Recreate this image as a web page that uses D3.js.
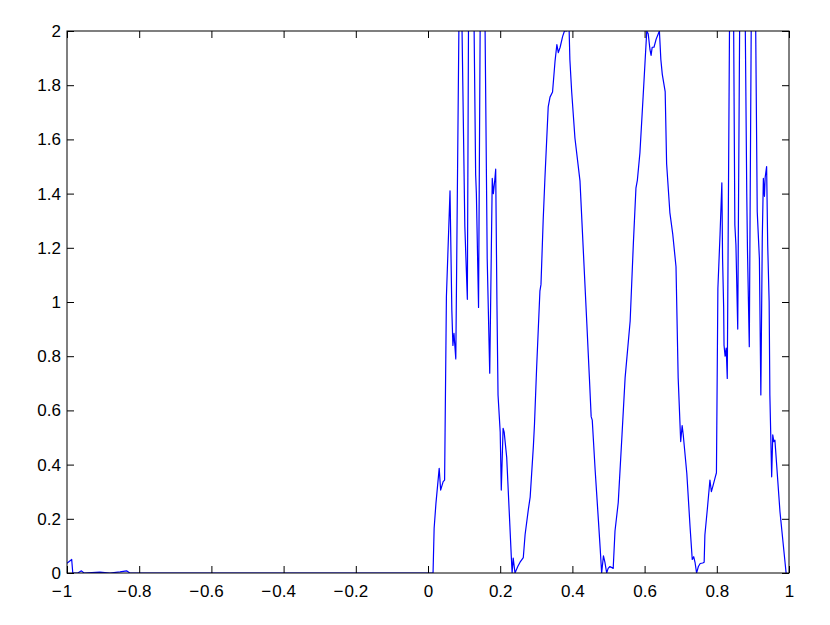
<!DOCTYPE html>
<html>
<head>
<meta charset="utf-8">
<script src="https://cdn.jsdelivr.net/npm/d3@7"></script>
<style>
  body { margin: 0; background: #fff; }
  svg { display: block; }
  .tick text { font-family: "Liberation Sans", Arial, Helvetica, sans-serif; font-size: 17px; fill: #000; }
</style>
</head>
<body>
<div id="chart"></div>
<script>
const xValues = [
  -1.000, -0.987, -0.984, -0.970, -0.960, -0.953, -0.909, -0.881, -0.853, -0.835, -0.826, -0.500, 0.000,
  0.014, 0.017, 0.022, 0.031, 0.035, 0.042, 0.046, 0.051, 0.061, 0.066, 0.069, 0.072, 0.077,
  0.089, 0.102, 0.109, 0.114, 0.123, 0.132, 0.134, 0.140, 0.147, 0.154, 0.164, 0.171, 0.178,
  0.181, 0.185, 0.1875, 0.191, 0.194, 0.200, 0.203, 0.208, 0.211, 0.218, 0.231, 0.233, 0.236,
  0.241, 0.249, 0.255, 0.264, 0.269, 0.278, 0.283, 0.292, 0.295, 0.301, 0.310, 0.313, 0.319,
  0.324, 0.333, 0.338, 0.345, 0.352, 0.357, 0.361, 0.366, 0.373, 0.378, 0.384, 0.389, 0.391,
  0.393, 0.398, 0.407, 0.421, 0.430, 0.440, 0.447, 0.452, 0.455, 0.463, 0.472, 0.477, 0.481,
  0.486, 0.490, 0.495, 0.499, 0.504, 0.513, 0.518, 0.527, 0.537, 0.546, 0.560, 0.569, 0.576,
  0.580, 0.587, 0.596, 0.601, 0.606, 0.610, 0.615, 0.618, 0.621, 0.626, 0.632, 0.638, 0.641,
  0.645, 0.649, 0.657, 0.661, 0.670, 0.678, 0.687, 0.693, 0.700, 0.704, 0.707, 0.717, 0.726,
  0.732, 0.736, 0.740, 0.744, 0.749, 0.754, 0.761, 0.765, 0.767, 0.774, 0.781, 0.785, 0.789,
  0.795, 0.799, 0.803, 0.809, 0.814, 0.816, 0.819, 0.820, 0.823, 0.826, 0.829, 0.838, 0.844,
  0.850, 0.853, 0.858, 0.866, 0.875, 0.883, 0.885, 0.890, 0.898, 0.904, 0.912, 0.918, 0.922,
  0.926, 0.929, 0.932, 0.934, 0.938, 0.941, 0.945, 0.947, 0.952, 0.955, 0.958, 0.961, 0.975, 0.992
];
const yValues = [
  0.036, 0.050, 0.000, 0.000, 0.008, 0.000, 0.003, 0.000, 0.004, 0.008, 0.000, 0.000, 0.000,
  0.000, 0.165, 0.257, 0.386, 0.306, 0.337, 0.343, 1.020, 1.410, 0.970, 0.840, 0.884, 0.790,
  2.500, 1.280, 1.010, 2.600, 2.600, 1.470, 1.400, 0.980, 2.600, 2.600, 1.160, 0.737, 1.456,
  1.400, 1.450, 1.490, 0.990, 0.657, 0.520, 0.306, 0.534, 0.520, 0.427, 0.054, 0.000, 0.055,
  0.000, 0.025, 0.040, 0.057, 0.142, 0.235, 0.280, 0.470, 0.550, 0.760, 1.040, 1.065, 1.300,
  1.460, 1.720, 1.756, 1.775, 1.890, 1.950, 1.920, 1.940, 1.980, 2.000, 2.000, 2.020, 2.000,
  1.895, 1.776, 1.605, 1.447, 1.196, 0.920, 0.722, 0.577, 0.564, 0.380, 0.195, 0.090, 0.000,
  0.063, 0.040, 0.000, 0.017, 0.024, 0.017, 0.155, 0.260, 0.500, 0.720, 0.930, 1.220, 1.420,
  1.450, 1.550, 1.760, 1.880, 2.000, 1.990, 1.930, 1.910, 1.940, 1.940, 1.970, 1.990, 2.000,
  1.895, 1.840, 1.776, 1.510, 1.330, 1.250, 1.130, 0.720, 0.485, 0.544, 0.510, 0.366, 0.169,
  0.050, 0.060, 0.037, 0.000, 0.024, 0.035, 0.037, 0.040, 0.140, 0.239, 0.343, 0.300, 0.320,
  0.350, 0.370, 1.050, 1.250, 1.440, 1.160, 0.980, 0.841, 0.800, 0.830, 0.718, 2.600, 2.600,
  1.284, 1.210, 0.900, 2.600, 2.600, 1.400, 1.190, 0.835, 2.600, 2.600, 1.333, 1.160, 0.657,
  1.235, 1.456, 1.390, 1.460, 1.500, 1.210, 1.000, 0.657, 0.355, 0.510, 0.485, 0.490, 0.226, 0.000
];

const xTicks = [-1, -0.8, -0.6, -0.4, -0.2, 0, 0.2, 0.4, 0.6, 0.8, 1];
const yTicks = [0, 0.2, 0.4, 0.6, 0.8, 1, 1.2, 1.4, 1.6, 1.8, 2];

const width = 830;
const height = 625;
const margin = { top: 31, right: 41, bottom: 52, left: 67 };
const innerW = width - margin.left - margin.right;
const innerH = height - margin.top - margin.bottom;
const tickLen = 7;

const svg = d3.select('#chart')
  .append('svg')
  .attr('width', width)
  .attr('height', height);

const g = svg.append('g')
  .attr('transform', `translate(${margin.left},${margin.top})`);

const x = d3.scaleLinear().domain([-1, 1]).range([0, innerW]);
const y = d3.scaleLinear().domain([0, 2]).range([innerH, 0]);

// clip the curve to the axes box
svg.append('defs').append('clipPath')
  .attr('id', 'plot-clip')
  .append('rect')
  .attr('width', innerW)
  .attr('height', innerH);

const points = xValues.map((d, i) => [d, yValues[i]]);

g.append('path')
  .datum(points)
  .attr('clip-path', 'url(#plot-clip)')
  .attr('fill', 'none')
  .attr('stroke', '#0000ff')
  .attr('stroke-width', 1.2)
  .attr('stroke-linejoin', 'round')
  .attr('d', d3.line().x(d => x(d[0])).y(d => y(d[1])));

const numFmt = d => d3.format('~g')(Math.abs(d));

// bottom axis, ticks pointing inward
const xAxis = g.append('g')
  .attr('transform', `translate(0,${innerH})`)
  .call(d3.axisBottom(x).tickValues(xTicks).tickSize(-tickLen).tickSizeOuter(0).tickPadding(12).tickFormat(numFmt));

// left axis
g.append('g')
  .call(d3.axisLeft(y).tickValues(yTicks).tickSize(-tickLen).tickSizeOuter(0).tickPadding(6).tickFormat(d3.format('~g')));

// top and right axes: ticks only
g.append('g')
  .call(d3.axisTop(x).tickValues(xTicks).tickSize(-tickLen).tickSizeOuter(0).tickFormat(''));
g.append('g')
  .attr('transform', `translate(${innerW},0)`)
  .call(d3.axisRight(y).tickValues(yTicks).tickSize(-tickLen).tickSizeOuter(0).tickFormat(''));

g.selectAll('.domain').remove();
g.selectAll('.tick line').attr('stroke', '#000');

// minus sign hangs left of the centred number
xAxis.selectAll('.tick').each(function (d) {
  if (d >= 0) return;
  const t = d3.select(this).select('text');
  const w = t.node().getComputedTextLength();
  d3.select(this).append('text')
    .attr('x', -w / 2 - 1)
    .attr('y', t.attr('y'))
    .attr('dy', t.attr('dy'))
    .attr('text-anchor', 'end')
    .text('\u2212');
});

// axes box
g.append('rect')
  .attr('x', 0)
  .attr('y', 0)
  .attr('width', innerW)
  .attr('height', innerH)
  .attr('fill', 'none')
  .attr('stroke', '#000')
  .attr('stroke-width', 1);
</script>
</body>
</html>
